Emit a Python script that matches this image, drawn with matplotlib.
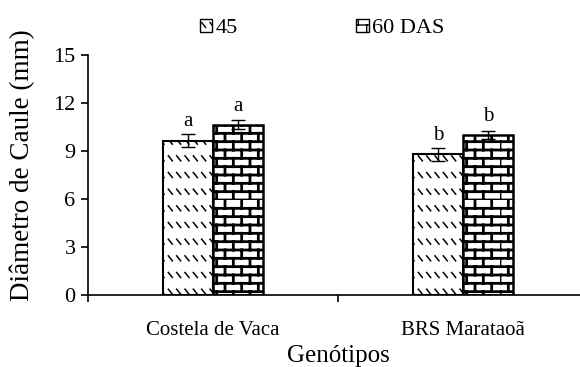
import warnings

import numpy as np
import matplotlib

matplotlib.use("Agg")
import matplotlib.pyplot as plt
from matplotlib import hatch as mhatch
from matplotlib.path import Path
from matplotlib.patches import Patch

warnings.filterwarnings("ignore")

genotypes = ["Costela de Vaca", "BRS Marataoã"]
series_labels = ["45", "60 DAS"]
mean_45 = [9.65, 8.8]
err_45 = [0.42, 0.4]
mean_60 = [10.65, 10.0]
err_60 = [0.3, 0.28]
letters_45 = ["a", "b"]
letters_60 = ["a", "b"]
y_ticks = [0, 3, 6, 9, 12, 15]


class BrickHatch(mhatch.HatchPatternBase):
    """Brick wall: horizontal courses with staggered vertical joints."""

    rows = 12
    cols = 6

    def __init__(self, hatch, density):
        self.on = "B" in hatch
        n_h = self.rows
        n_v = self.rows * self.cols
        self.num_vertices = (n_h + n_v) * 2 if self.on else 0

    def set_vertices_and_codes(self, vertices, codes):
        rows, cols = self.rows, self.cols
        ys = np.arange(rows) / rows
        i = 0
        for y in ys:
            vertices[i] = (0.0, y)
            vertices[i + 1] = (1.0, y)
            i += 2
        for r, y in enumerate(ys):
            shift = 0.5 / cols if r % 2 else 0.0
            for c in range(cols):
                x = c / cols + shift
                vertices[i] = (x, y)
                vertices[i + 1] = (x, y + 1.0 / rows)
                i += 2
        codes[0::2] = Path.MOVETO
        codes[1::2] = Path.LINETO


class DashHatch(mhatch.HatchPatternBase):
    """Rows of short back-slash dashes."""

    rows = 6
    cols = 12

    def __init__(self, hatch, density):
        self.on = "D" in hatch
        self.num_vertices = self.rows * self.cols * 2 if self.on else 0

    def set_vertices_and_codes(self, vertices, codes):
        i = 0
        for r in range(self.rows):
            y = (r + 0.5) / self.rows
            for c in range(self.cols):
                x = (c + 0.2) / self.cols
                vertices[i] = (x, y + 0.025)
                vertices[i + 1] = (x + 0.04, y - 0.025)
                i += 2
        codes[0::2] = Path.MOVETO
        codes[1::2] = Path.LINETO


mhatch._hatch_types.extend([BrickHatch, DashHatch])

plt.rcParams.update({
    "font.family": ["Liberation Serif", "DejaVu Serif"],
    "font.size": 15,
    "axes.linewidth": 1.2,
    "hatch.color": "black",
})

fig = plt.figure(figsize=(5.8, 3.67), dpi=100)
ax = fig.add_axes([88 / 580, 72 / 367, 500 / 580, 240 / 367])

x = np.arange(len(genotypes))
width = 0.2

with plt.rc_context({"hatch.linewidth": 1.1}):
    bars45 = ax.bar(x - width / 2, mean_45, width, color="white", edgecolor="black",
                    linewidth=1.5, hatch="D", yerr=err_45,
                    error_kw=dict(ecolor="black", elinewidth=1.0, capsize=5, capthick=1.0))
with plt.rc_context({"hatch.linewidth": 2.0}):
    bars60 = ax.bar(x + width / 2, mean_60, width, color="white", edgecolor="black",
                    linewidth=1.8, hatch="B", yerr=err_60,
                    error_kw=dict(ecolor="black", elinewidth=1.0, capsize=5, capthick=1.0))

for xi, m, e, t in zip(x - width / 2, mean_45, err_45, letters_45):
    ax.annotate(t, (xi, m + e), xytext=(0, 2), textcoords="offset points",
                ha="center", va="bottom", fontsize=15)
for xi, m, e, t in zip(x + width / 2, mean_60, err_60, letters_60):
    ax.annotate(t, (xi, m + e), xytext=(0, 3), textcoords="offset points",
                ha="center", va="bottom", fontsize=15)

ax.set_xlim(-0.5, 1.5)
ax.set_ylim(0, 15)
ax.set_yticks(y_ticks)
ax.set_xticks(x)
ax.set_xticklabels(genotypes)
ax.set_xticks([-0.5, 0.5, 1.5], minor=True)
ax.tick_params(axis="x", which="major", length=0, pad=19, labelsize=15)
ax.tick_params(axis="x", which="minor", length=5, width=1.2, direction="out")
ax.tick_params(axis="y", length=5, width=1.2, direction="out", labelsize=16, pad=4)
ax.spines["top"].set_visible(False)
ax.spines["right"].set_visible(False)
ax.spines["left"].set_bounds(0, 15)

ax.set_ylabel("Diâmetro de Caule (mm)", fontsize=19.5)
ax.yaxis.set_label_coords(-0.106, 0.54)
ax.set_xlabel("Genótipos", fontsize=18, labelpad=3)

with plt.rc_context({"hatch.linewidth": 1.0}):
    handles = [Patch(facecolor="white", edgecolor="black", linewidth=1.0, hatch="D"),
               Patch(facecolor="white", edgecolor="black", linewidth=1.0, hatch="B")]
fig.legend(handles, series_labels, loc="upper center", bbox_to_anchor=(0.555, 1.0),
           ncol=2, frameon=False, fontsize=16, handlelength=0.55, handleheight=0.55,
           handletextpad=0.15, columnspacing=5.35, borderpad=0.35)

fig.savefig("out.png", dpi=100)
